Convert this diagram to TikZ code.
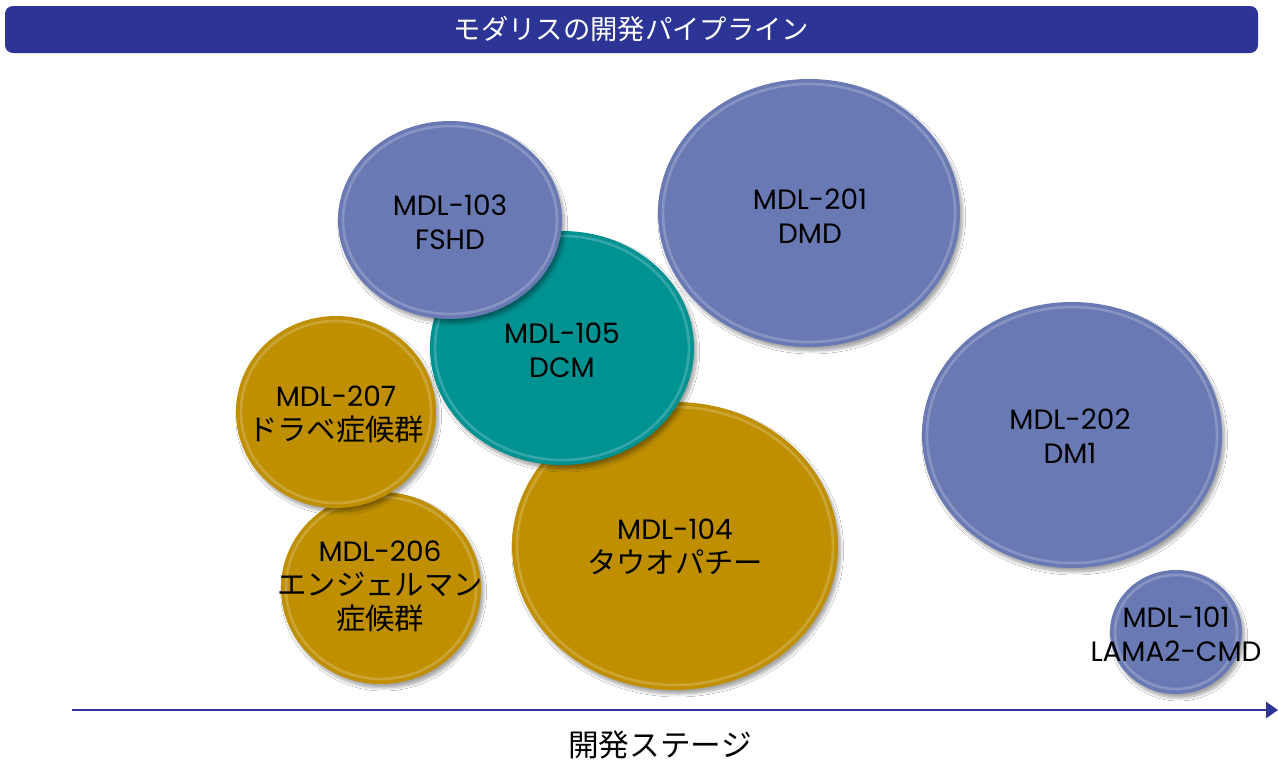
\documentclass[tikz,border=0pt]{standalone}
\usepackage{fontspec}
\setmainfont{Poppins}
\newfontfamily\jp{Noto Sans CJK JP}
\usetikzlibrary{shapes.geometric,shadows.blur,arrows.meta}
\definecolor{barblue}{HTML}{2C3595}
\definecolor{periw}{HTML}{6979B4}
\definecolor{goldc}{HTML}{BF8F00}
\definecolor{tealc}{HTML}{009191}
\newcommand{\bubble}[6]{%
  \node[bubble, fill=#6, minimum width=#4*1.5pt, minimum height=#5*1.5pt] (#1) at (#2,#3) {};
  \draw[white, opacity=0.2, line width=2pt] (#1.center) ellipse [x radius=#4-5, y radius=#5-5];
}
\begin{document}
\begin{tikzpicture}[x=0.75pt,y=-0.75pt,
  bubble/.style={ellipse, inner sep=0pt, draw=none,
    blur shadow={shadow xshift=2pt, shadow yshift=-3pt, shadow blur steps=8, shadow opacity=35}},
  lbl/.style={align=center, text=black, font=\fontsize{21}{25.5}\selectfont, inner sep=0pt},
  jpt/.style={font=\jp\fontsize{22}{25.5}\selectfont},
  titlebar/.style={fill=barblue, rounded corners=6pt, minimum width=939.75pt, minimum height=35.25pt, inner sep=0pt, text=white, font=\jp\fontsize{20.5}{22}\selectfont},
  axis/.style={draw=barblue, line width=2.2pt, -{Triangle[length=9pt,width=12pt]}},
  axlbl/.style={font=\jp\fontsize{23}{26}\selectfont, text=black}]
\useasboundingbox (0,0) rectangle (1278,761);
\fill[white] (0,0) rectangle (1278,761);
\node[titlebar] (title) at (631.5,29.5) {モダリスの開発パイプライン};
% bubbles
\bubble{e104}{675}{546}{163}{144}{goldc}
\bubble{e105}{562}{348}{132}{117}{tealc}
\bubble{e103}{450}{220}{112}{99}{periw}
\bubble{e201}{809}{213}{151}{134}{periw}
\bubble{e206}{381}{588}{100}{96}{goldc}
\bubble{e207}{336}{412}{100}{96}{goldc}
\bubble{e202}{1072}{435}{150}{133}{periw}
\bubble{e101}{1176}{632}{66}{62}{periw}
% labels
\node[lbl] (t103) at (450,222) {MDL-103\\FSHD};
\node[lbl] (t201) at (810,216) {MDL-201\\DMD};
\node[lbl] (t105) at (562,350) {MDL-105\\DCM};
\node[lbl] (t207) at (336,414) {MDL-207\\{\jp\fontsize{22}{25.5}\selectfont ドラベ症候群}};
\node[lbl] (t206) at (380,586) {MDL-206\\{\jp\fontsize{22}{25.5}\selectfont エンジェルマン}\\{\jp\fontsize{22}{25.5}\selectfont 症候群}};
\node[lbl] (t104) at (675,547) {MDL-104\\{\jp\fontsize{22}{25.5}\selectfont タウオパチー}};
\node[lbl] (t202) at (1070,436) {MDL-202\\DM1};
\node[lbl] (t101) at (1176,634) {MDL-101\\LAMA2-CMD};
% axis
\coordinate (ax0) at (72,710);
\coordinate (ax1) at (1278,710);
\draw[axis] (ax0) -- (ax1);
\node[axlbl] (xl) at (660,745) {開発ステージ};
\end{tikzpicture}
\end{document}
